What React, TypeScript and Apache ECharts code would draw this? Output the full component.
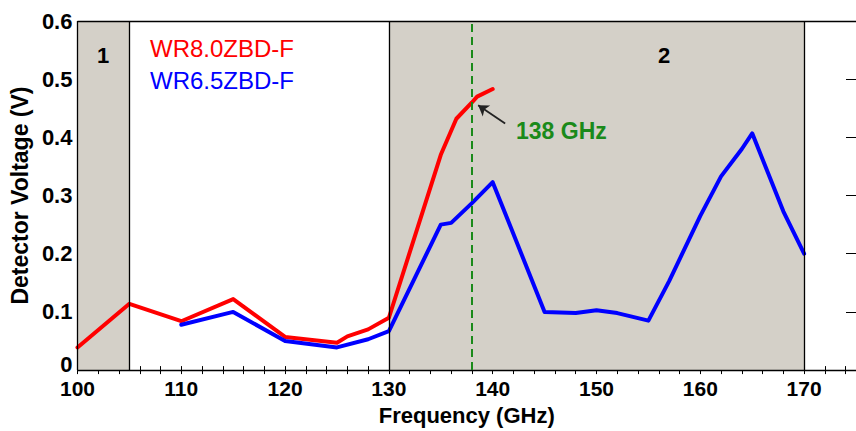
import React, { useEffect, useRef } from "react";
import * as echarts from "echarts";

const FONT = "'Liberation Sans', Arial, Helvetica, sans-serif";

// Frequency (GHz) / detector voltage (V)
const redName = "WR8.0ZBD-F";
const redFreq = [100, 105, 110, 115, 120, 125, 126, 128, 130, 135, 136.5, 138, 138.5, 140];
const redVolt = [0.039, 0.114, 0.084, 0.122, 0.057, 0.047, 0.058, 0.07, 0.09, 0.37, 0.432, 0.46, 0.47, 0.483];

const blueName = "WR6.5ZBD-F";
const blueFreq = [110, 115, 120, 125, 128, 130, 135, 136, 138, 140, 145, 148, 150, 152, 155, 157, 160, 162, 164, 165, 168, 170];
const blueVolt = [0.078, 0.1, 0.05, 0.039, 0.053, 0.067, 0.25, 0.253, 0.287, 0.323, 0.1, 0.098, 0.103, 0.098, 0.085, 0.153, 0.265, 0.333, 0.38, 0.407, 0.273, 0.2];

// shaded bands (GHz)
const bands = [
  [100, 105],
  [130, 170],
];
const bandEdges = [105, 130, 170];
const markerFreq = 138;
const markerLabel = "138 GHz";
const arrowFrom = [141.2, 0.424];
const arrowTo = [138.6, 0.455];

const xMin = 100;
const xMax = 175;
const yMin = 0;
const yMax = 0.6;

export default function App() {
  const ref = useRef<HTMLDivElement>(null);

  useEffect(() => {
    if (!ref.current) return;
    const chart = echarts.init(ref.current, null, { renderer: "svg" });

    const xCommon = {
      type: "value",
      min: xMin,
      max: xMax,
      interval: 2,
      splitLine: { show: false },
      axisLine: { show: false },
      axisTick: { show: true, inside: true, length: 4, lineStyle: { color: "#000", width: 1 } },
    };
    const yCommon = {
      type: "value",
      min: yMin,
      max: yMax,
      interval: 0.1,
      splitLine: { show: false },
      axisLine: { show: false },
    };

    const option: any = {
      animation: false,
      backgroundColor: "#ffffff",
      textStyle: { fontFamily: FONT },
      grid: { left: 77, right: -7, top: 21, bottom: 51, containLabel: false },
      legend: {
        show: true,
        orient: "vertical",
        left: 145,
        top: 36,
        padding: 0,
        itemGap: 8,
        itemWidth: 0,
        itemHeight: 0,
        icon: "none",
        selectedMode: false,
        textStyle: { fontFamily: FONT, fontSize: 24 },
        data: [
          { name: redName, icon: "none", textStyle: { color: "#ff0000" } },
          { name: blueName, icon: "none", textStyle: { color: "#0000ff" } },
        ],
      },
      xAxis: [
        {
          ...xCommon,
          position: "bottom",
          name: "Frequency (GHz)",
          nameLocation: "middle",
          nameGap: 20,
          nameTextStyle: { fontFamily: FONT, fontSize: 22, fontWeight: "bold", color: "#000" },
          axisLabel: {
            show: true,
            margin: 8,
            fontFamily: FONT,
            fontSize: 21,
            fontWeight: "bold",
            color: "#000",
            showMaxLabel: false,
            formatter: (v: number) => (v % 10 === 0 && v <= 170 ? String(v) : ""),
          },
        },
        {
          ...xCommon,
          position: "top",
          axisLabel: { show: false },
        },
      ],
      yAxis: [
        {
          ...yCommon,
          position: "left",
          name: "Detector Voltage (V)",
          nameLocation: "middle",
          nameGap: 42,
          nameTextStyle: { fontFamily: FONT, fontSize: 23, fontWeight: "bold", color: "#000" },
          axisTick: { show: false },
          axisLabel: {
            show: true,
            margin: 5,
            fontFamily: FONT,
            fontSize: 22,
            fontWeight: "bold",
            color: "#000",
            formatter: (v: number) => (v === 0 ? "{z|0}" : v.toFixed(1)),
            rich: {
              z: {
                fontFamily: FONT,
                fontSize: 22,
                fontWeight: "bold",
                color: "#000",
                padding: [0, 0, 12, 0],
              },
            },
          },
        },
        {
          ...yCommon,
          position: "right",
          axisLabel: { show: false },
          axisTick: { show: true, inside: true, length: 10, lineStyle: { color: "#000", width: 1 } },
        },
      ],
      graphic: [
        {
          type: "text",
          z: 100,
          left: 97,
          top: 44,
          style: { text: "1", font: `bold 22px ${FONT}`, fill: "#000" },
        },
        {
          type: "text",
          z: 100,
          left: 658,
          top: 44,
          style: { text: "2", font: `bold 22px ${FONT}`, fill: "#000" },
        },
        {
          type: "text",
          z: 100,
          left: 516,
          top: 119,
          style: { text: markerLabel, font: `bold 23px ${FONT}`, fill: "#1a8a1a" },
        },
      ],
      series: [
        {
          name: "bands",
          type: "line",
          data: [],
          z: 1,
          silent: true,
          markArea: {
            silent: true,
            itemStyle: { color: "#d4d0c8" },
            data: bands.map((b) => [{ xAxis: b[0] }, { xAxis: b[1] }]),
          },
        },
        {
          name: "frame",
          type: "line",
          data: [],
          z: 3,
          silent: true,
          markLine: {
            silent: true,
            symbol: ["none", "none"],
            label: { show: false },
            lineStyle: { color: "#000", type: "solid", width: 1.3 },
            data: [
              { xAxis: xMin },
              { yAxis: yMin },
              { yAxis: yMax },
              ...bandEdges.map((e) => ({ xAxis: e })),
            ],
          },
        },
        {
          name: redName,
          type: "line",
          z: 4,
          data: redFreq.map((f, i) => [f, redVolt[i]]),
          showSymbol: false,
          symbol: "none",
          color: "#ff0000",
          lineStyle: { color: "#ff0000", width: 4, join: "round", cap: "round" },
        },
        {
          name: blueName,
          type: "line",
          z: 4,
          data: blueFreq.map((f, i) => [f, blueVolt[i]]),
          showSymbol: false,
          symbol: "none",
          color: "#0000ff",
          lineStyle: { color: "#0000ff", width: 4, join: "round", cap: "round" },
        },
        {
          name: "marker",
          type: "line",
          data: [],
          z: 6,
          silent: true,
          markLine: {
            silent: true,
            symbol: ["none", "none"],
            label: { show: false },
            lineStyle: { color: "#1a8a1a", type: [8, 5], width: 2 },
            data: [{ xAxis: markerFreq }],
          },
        },
        {
          name: "arrow",
          type: "line",
          data: [],
          z: 7,
          silent: true,
          markLine: {
            silent: true,
            symbol: ["none", "arrow"],
            symbolSize: 10,
            label: { show: false },
            lineStyle: { color: "#222", type: "solid", width: 1.8 },
            data: [[{ coord: arrowFrom }, { coord: arrowTo }]],
          },
        },
      ],
    };

    chart.setOption(option);
    return () => chart.dispose();
  }, []);

  return (
    <div
      ref={ref}
      style={{ position: "fixed", left: 0, top: 0, width: 856, height: 431 }}
    />
  );
}
